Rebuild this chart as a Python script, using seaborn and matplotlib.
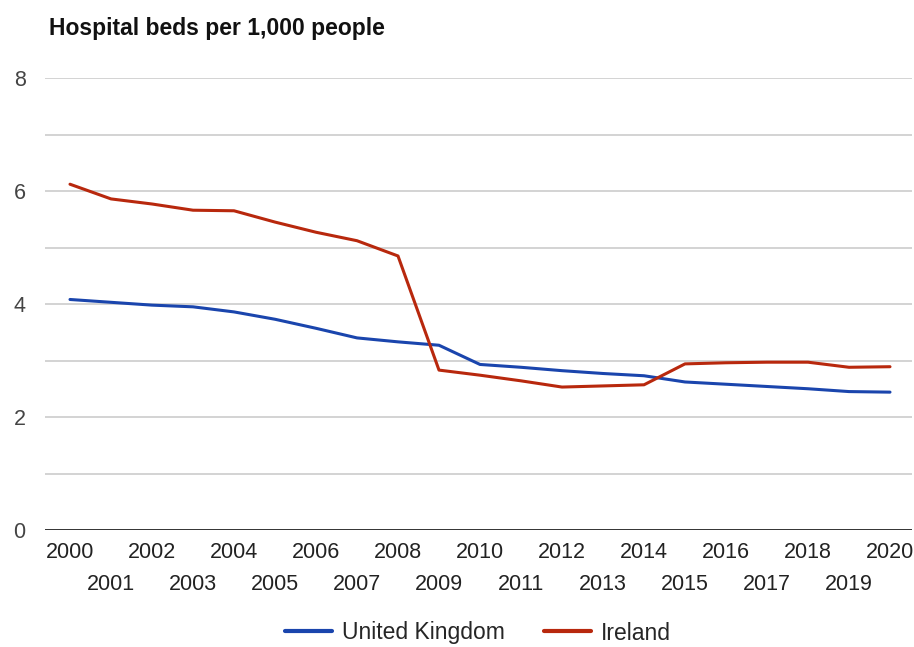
import matplotlib
matplotlib.use("Agg")
import matplotlib.pyplot as plt
import seaborn as sns
import pandas as pd
from matplotlib.lines import Line2D

years = list(range(2000, 2021))
uk = [4.08, 4.03, 3.98, 3.95, 3.86, 3.73, 3.57, 3.40, 3.33, 3.27,
      2.93, 2.88, 2.82, 2.77, 2.73, 2.62, 2.58, 2.54, 2.50, 2.45, 2.44]
ireland = [6.12, 5.86, 5.77, 5.66, 5.65, 5.45, 5.27, 5.12, 4.85, 2.83,
           2.74, 2.64, 2.53, 2.55, 2.57, 2.94, 2.96, 2.97, 2.97, 2.88, 2.89]
series_names = ["United Kingdom", "Ireland"]
colors = ["#1a45ad", "#b8280d"]
y_ticks = [0, 2, 4, 6, 8]
title = "Hospital beds per 1,000 people"

df = pd.DataFrame({
    "year": years * 2,
    "value": uk + ireland,
    "country": [series_names[0]] * len(years) + [series_names[1]] * len(years),
})

sns.set_theme(style="white")
plt.rcParams["font.family"] = ["Liberation Sans", "DejaVu Sans"]

fig = plt.figure(figsize=(9.14, 6.47), dpi=100)
ax = fig.add_axes([45 / 914, 1 - 530 / 647, (912 - 45) / 914, (530 - 78) / 647])

# gridlines
for v in range(1, 9):
    ax.axhline(v, color="#cccccc", lw=1.2, zorder=0)
ax.axhline(0, color="#333333", lw=1.4, zorder=1)

sns.lineplot(data=df, x="year", y="value", hue="country",
             palette=dict(zip(series_names, colors)), lw=2.2,
             legend=False, ax=ax, zorder=3)

ax.set_xlim(2000 - 25 / 41, 2020 + 22 / 41)
ax.set_ylim(0, 8)
ax.set_yticks(y_ticks)
ax.set_yticklabels([str(t) for t in y_ticks], color="#444444", fontsize=15.5)

even_years = [y for y in years if y % 2 == 0]
odd_years = [y for y in years if y % 2 == 1]
ax.set_xticks(even_years)
ax.set_xticklabels([str(y) for y in even_years], color="#222222", fontsize=15.5)
ax.set_xticks(odd_years, minor=True)
ax.set_xticklabels([str(y) for y in odd_years], minor=True, color="#222222", fontsize=15.5)
ax.tick_params(axis="y", length=0, pad=14)
ax.tick_params(axis="x", which="major", length=0, pad=9)
ax.tick_params(axis="x", which="minor", length=0, pad=32)
ax.set_xlabel("")
ax.set_ylabel("")
for s in ax.spines.values():
    s.set_visible(False)

fig.text(49 / 914, 1 - 28 / 647, title, fontsize=16.5, fontweight="bold",
         color="#111111", va="center", ha="left")

handles = [Line2D([0], [0], color=c, lw=3) for c in colors]
fig.legend(handles, series_names, loc="center", bbox_to_anchor=(478 / 914, 1 - 633 / 647),
           ncol=2, frameon=False, fontsize=16.5, handlelength=2.05,
           columnspacing=1.75, handletextpad=0.4)

fig.savefig("out.png", dpi=100)
